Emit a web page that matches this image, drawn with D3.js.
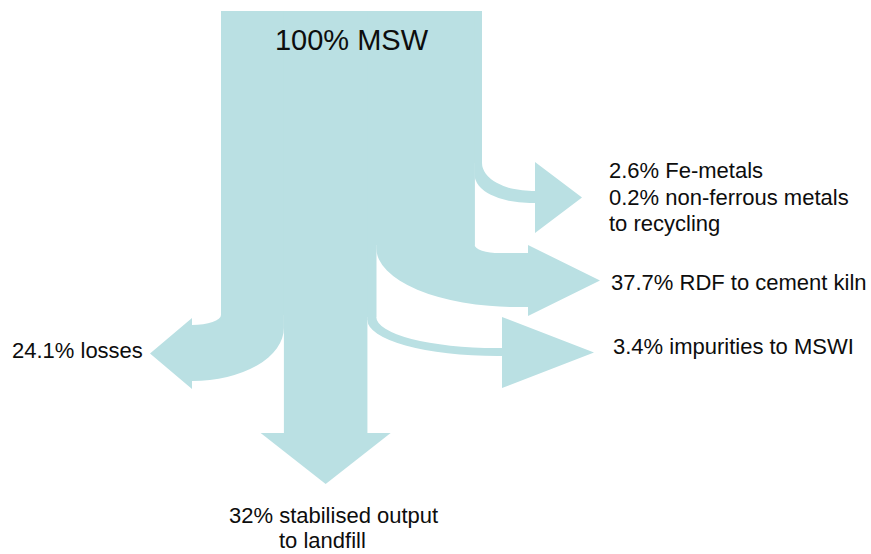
<html lang='en'>
    <head>
        <meta charset='utf-8'>
        <title>MSW material flows</title>
        <script src="https://d3js.org/d3.v7.min.js"></script>
        <style>
            body { margin: 0; background: #fff; }
            text { font-family: "Liberation Sans", Arial, sans-serif; fill: #0d0d0d; }
        </style>
    </head>
    <body>
        <script>
            var width = 871;
            var height = 554;

            // data: source and the split of the flows (left to right inside the trunk)
            var sourceLabel = "100% MSW";
            var sourceShare = 100;
            var flowNames = ["losses", "landfill", "impurities", "rdf", "metals"];
            var flowShares = [24.1, 32, 3.4, 37.7, 2.8];
            var flowLabels = [
                ["24.1% losses"],
                ["32% stabilised output", "to landfill"],
                ["3.4% impurities to MSWI"],
                ["37.7% RDF to cement kiln"],
                ["2.6% Fe-metals", "0.2% non-ferrous metals", "to recycling"]
            ];

            // layout of each arrow (positions only)
            var layout = {
                losses:     {dir: "left",  yT: 325, yB: 381, ryO: 10, rxO: 29, ryI: 53, base: 192, tip: 150, half: 35.5, hc: 353.5,
                             lx: 12, ly: 358},
                landfill:   {dir: "down",  base: 433, tip: 484, half: 65,
                             lx: [229, 279], ly: 523},
                impurities: {dir: "right", yT: 348, yB: 356, ryO: 31, rxO: 120, ryI: 36, rxI: 130, base: 502, tip: 594, half: 35.5, hc: 352.5,
                             lx: 613, ly: 354},
                rdf:        {dir: "right", yT: 253, yB: 307, ryO: 8, rxO: 25, ryI: 59, rxI: 140, base: 528, tip: 600, half: 35.5, hc: 280.5,
                             lx: 611, ly: 290},
                metals:     {dir: "right", yT: 191, yB: 203, ryO: 28, rxO: 50, ryI: 28, rxI: 55, base: 535, tip: 582, half: 35.5, hc: 197.5,
                             lx: 609, ly: 178}
            };

            var trunkTop = 11;
            var fill = "#bae0e3";
            var lineHeight = 26.5;

            // share of MSW -> horizontal position inside the trunk
            var x = d3.scaleLinear()
                      .domain([0, sourceShare])
                      .range([221, 482]);

            var svg = d3.select('body')
                        .append('svg')
                        .attr('width', width)
                        .attr('height', height);

            // cumulative start/end of every flow
            var cum = 0;
            var flows = flowNames.map(function(name, i) {
                var f = {name: name, share: flowShares[i], labels: flowLabels[i],
                         x0: x(cum), x1: x(cum + flowShares[i]), l: layout[name]};
                cum += flowShares[i];
                return f;
            });

            // y where a flow stops being a plain vertical column
            function bendStart(f, i) {
                var l = f.l;
                if (l.dir === "down") {
                    // stop where neighbours start to curve away
                    var left = flows[i - 1].l, right = flows[i + 1].l;
                    return Math.min(left.yB - left.ryI, right.yB - right.ryI);
                }
                return Math.min(l.yT - l.ryO, l.yB - l.ryI);
            }

            //trunk as one stepped polygon (avoids seams between the columns)
            var trunk = [[x(0), trunkTop], [x(sourceShare), trunkTop]];
            for (var i = flows.length - 1; i >= 0; i--) {
                var h = bendStart(flows[i], i);
                trunk.push([flows[i].x1, h]);
                trunk.push([flows[i].x0, h]);
            }
            svg.append('path')
               .attr('d', d3.line()(trunk) + "Z")
               .style('fill', fill);

            // ribbon with elliptical bend + arrow head
            function ribbon(f) {
                var l = f.l, s, top = trunkTop;
                if (l.dir === "right") {
                    s = "M" + f.x0 + "," + top +
                        "L" + f.x1 + "," + top +
                        "L" + f.x1 + "," + (l.yT - l.ryO) +
                        "A" + l.rxO + "," + l.ryO + " 0 0 0 " + (f.x1 + l.rxO) + "," + l.yT +
                        "L" + l.base + "," + l.yT +
                        "L" + l.base + "," + (l.hc - l.half) +
                        "L" + l.tip + "," + l.hc +
                        "L" + l.base + "," + (l.hc + l.half) +
                        "L" + l.base + "," + l.yB +
                        "L" + (f.x0 + l.rxI) + "," + l.yB +
                        "A" + l.rxI + "," + l.ryI + " 0 0 1 " + f.x0 + "," + (l.yB - l.ryI) +
                        "Z";
                } else if (l.dir === "left") {
                    var rxI = f.x1 - l.base;
                    s = "M" + f.x1 + "," + top +
                        "L" + f.x0 + "," + top +
                        "L" + f.x0 + "," + (l.yT - l.ryO) +
                        "A" + l.rxO + "," + l.ryO + " 0 0 1 " + (f.x0 - l.rxO) + "," + l.yT +
                        "L" + l.base + "," + l.yT +
                        "L" + l.base + "," + (l.hc - l.half) +
                        "L" + l.tip + "," + l.hc +
                        "L" + l.base + "," + (l.hc + l.half) +
                        "L" + l.base + "," + l.yB +
                        "L" + (f.x1 - rxI) + "," + l.yB +
                        "A" + rxI + "," + l.ryI + " 0 0 0 " + f.x1 + "," + (l.yB - l.ryI) +
                        "Z";
                } else {
                    var cx = (f.x0 + f.x1) / 2;
                    s = "M" + f.x0 + "," + top +
                        "L" + f.x1 + "," + top +
                        "L" + f.x1 + "," + l.base +
                        "L" + (cx + l.half) + "," + l.base +
                        "L" + cx + "," + l.tip +
                        "L" + (cx - l.half) + "," + l.base +
                        "L" + f.x0 + "," + l.base +
                        "Z";
                }
                return s;
            }

            svg.selectAll('path.flow')
               .data(flows)
               .enter()
               .append('path')
               .attr('class', 'flow')
               .attr('d', ribbon)
               .style('fill', fill);

            //source label
            svg.append('text')
               .attr('x', (x(0) + x(sourceShare)) / 2)
               .attr('y', 50)
               .attr('text-anchor', 'middle')
               .style('font-size', '29px')
               .text(sourceLabel);

            //flow labels
            flows.forEach(function(f) {
                var t = svg.append('text')
                           .style('font-size', '22px');
                f.labels.forEach(function(line, i) {
                    t.append('tspan')
                     .attr('x', Array.isArray(f.l.lx) ? f.l.lx[i] : f.l.lx)
                     .attr('y', f.l.ly + i * (f.name === "landfill" ? 25 : lineHeight))
                     .text(line);
                });
            });
        </script>
    </body>
</html>
